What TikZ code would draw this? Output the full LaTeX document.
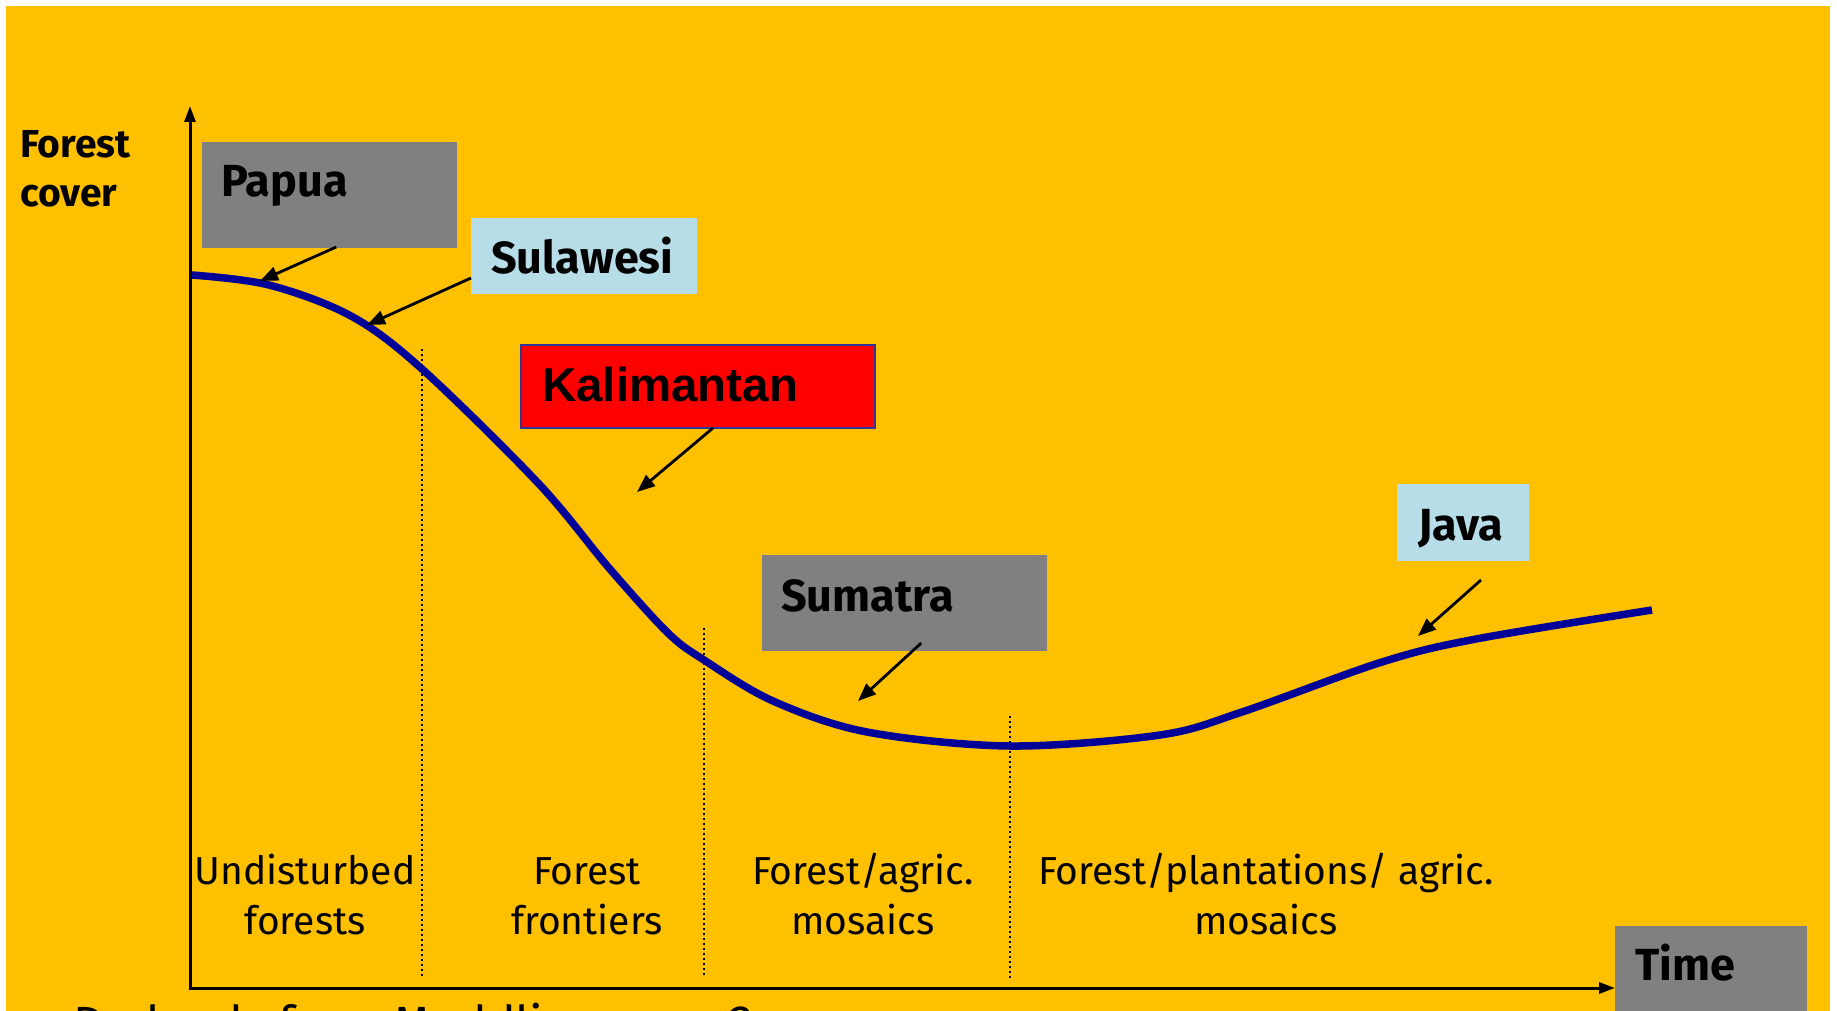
\documentclass[tikz,border=0pt]{standalone}
\usepackage{fontspec}
\setmainfont{Fira Sans}
\newfontfamily\arialfont{Liberation Sans}
\usetikzlibrary{arrows.meta,calc}
\definecolor{bgyellow}{HTML}{FFC000}
\definecolor{boxgray}{HTML}{808080}
\definecolor{boxblue}{HTML}{B7DEE8}
\definecolor{curveblue}{HTML}{000099}
\definecolor{kalborder}{HTML}{333399}
\begin{document}
\begin{tikzpicture}[x=1pt,y=-1pt,
  box/.style={rectangle,inner sep=0pt,outer sep=0pt,anchor=north west},
  boxtext/.style={inner sep=0pt,anchor=base west,font=\fontsize{45}{52}\selectfont\bfseries},
  region/.style={inner sep=0pt,anchor=base,align=center,font=\fontsize{39}{50}\selectfont},
  callout/.style={line width=2.8pt,-{Triangle[length=18pt,width=14pt]}},
  axisline/.style={line width=3pt,{Triangle[length=16pt,width=11pt]}-{Triangle[length=16pt,width=11pt]}},
  sep/.style={line width=2pt,dash pattern=on 2pt off 3pt},
  curve/.style={line width=7.5pt,curveblue}]
\clip (0,0) rectangle (1837,1011);
\fill[white] (0,0) rectangle (1837,1011);
\fill[bgyellow] (6,6) rectangle (1830,1011);

% separators
\draw[sep] (422,349) -- (422,978);
\draw[sep] (704,628) -- (704,978);
\draw[sep] (1010,716) -- (1010,978);

% axes
\coordinate (ytop) at (190,106);
\coordinate (orig) at (190,988);
\coordinate (xend) at (1615,988);
\draw[axisline] (ytop) -- (orig) -- (xend);

% curve
\draw[curve] plot[smooth,tension=0.55] coordinates {
 (192,275) (269,285) (351,316) (422,369) (539,484) (609,568) (668,633)
 (704,660) (773,701) (867,732) (1010,746) (1160,735) (1242,712)
 (1382,662) (1476,639) (1652,610)};

% axis labels
\node[inner sep=0pt,anchor=base west,align=left,font=\fontsize{39}{49}\selectfont\bfseries] (ylab) at (20,207) {Forest\\cover};
\node[box,fill=boxgray,minimum width=192pt,minimum height=100pt] (timebox) at (1615,926) {};
\node[boxtext] (timet) at (1635,980) {Time};

% boxes
\node[box,fill=boxgray,minimum width=255.5pt,minimum height=106pt] (papua) at (201.5,142) {};
\node[boxtext] (papuat) at (221,197) {Papua};

\node[box,fill=boxblue,minimum width=226pt,minimum height=76pt] (sulawesi) at (471,218) {};
\node[boxtext] (sulawesit) at (491,273) {Sulawesi};

\node[box,fill=red,draw=kalborder,line width=2pt,minimum width=354pt,minimum height=83pt] (kal) at (521,345) {};
\node[inner sep=0pt,anchor=base west,font=\arialfont\fontsize{47.5}{54}\selectfont\bfseries] (kalt) at (542,401) {Kalimantan};

\node[box,fill=boxblue,minimum width=132pt,minimum height=77pt] (java) at (1397,484) {};
\node[boxtext] (javat) at (1418,540) {Java};

\node[box,fill=boxgray,minimum width=285.5pt,minimum height=96pt] (sumatra) at (761.5,555) {};
\node[boxtext] (sumatrat) at (781,611) {Sumatra};

% callouts
\coordinate (papuatip) at (260,281);
\coordinate (sulawesitip) at (367,325);
\coordinate (kaltip) at (637,492);
\coordinate (sumatratip) at (858,701);
\coordinate (javatip) at (1418,636);
\draw[callout] ([xshift=7pt,yshift=1pt]papua.south) -- (papuatip);
\draw[callout] ([yshift=-22pt]sulawesi.west) -- (sulawesitip);
\draw[callout] ([xshift=15pt]kal.south) -- (kaltip);
\draw[callout] ([xshift=17pt,yshift=8pt]sumatra.south) -- (sumatratip);
\draw[callout] ([xshift=18pt,yshift=-19pt]java.south) -- (javatip);

% regions
\node[region] (r1) at (305,934) {Undisturbed\\forests};
\node[region] (r2) at (587,934) {Forest\\frontiers};
\node[region] (r3) at (863,934) {Forest/agric.\\mosaics};
\node[region] (r4) at (1266,934) {Forest/plantations/ agric.\\mosaics};

% cut-off bottom line
\node[inner sep=0pt,anchor=base west,font=\fontsize{48}{52}\selectfont] (bottom) at (73,1040) {Drylands from Muddling on ... ?};
\end{tikzpicture}
\end{document}
